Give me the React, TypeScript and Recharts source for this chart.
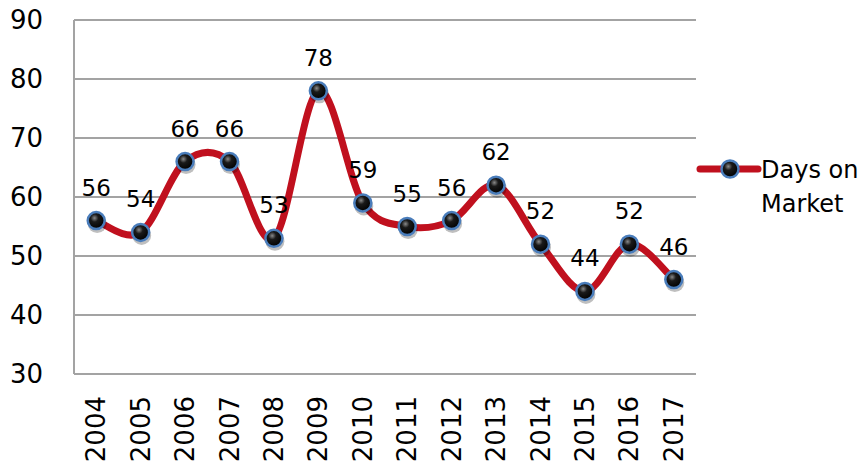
import React from "react";
import {
  LineChart,
  Line,
  XAxis,
  YAxis,
  CartesianGrid,
  Legend,
  LabelList,
} from "recharts";

const years = [
  "2004", "2005", "2006", "2007", "2008", "2009", "2010",
  "2011", "2012", "2013", "2014", "2015", "2016", "2017",
];
const daysOnMarket = [56, 54, 66, 66, 53, 78, 59, 55, 56, 62, 52, 44, 52, 46];
const yTicks = [30, 40, 50, 60, 70, 80, 90];
const seriesName = "Days on Market";

const data = years.map((y, i) => ({ year: y, days: daysOnMarket[i] }));

const FONT = "'DejaVu Sans', Verdana, sans-serif";
const RED = "#C0101E";
const GRID = "#a3a3a3";

// smoothed line like the spreadsheet one (catmull-rom through every point)
const smoothCurve = (context: any) => {
  let pts: number[][] = [];
  return {
    areaStart() {},
    areaEnd() {},
    lineStart() {
      pts = [];
    },
    point(x: number, y: number) {
      pts.push([+x, +y]);
    },
    lineEnd() {
      if (!pts.length) return;
      context.moveTo(pts[0][0], pts[0][1]);
      for (let i = 0; i < pts.length - 1; i++) {
        const p0 = pts[Math.max(i - 1, 0)];
        const p1 = pts[i];
        const p2 = pts[i + 1];
        const p3 = pts[Math.min(i + 2, pts.length - 1)];
        context.bezierCurveTo(
          p1[0] + (p2[0] - p0[0]) / 6,
          p1[1] + (p2[1] - p0[1]) / 6,
          p2[0] - (p3[0] - p1[0]) / 6,
          p2[1] - (p3[1] - p1[1]) / 6,
          p2[0],
          p2[1]
        );
      }
    },
  };
};

const Ball = ({ cx, cy }: { cx: number; cy: number }) => (
  <g>
    <circle cx={cx + 1} cy={cy + 3} r={9.5} fill="#000" opacity={0.25} />
    <circle
      cx={cx}
      cy={cy}
      r={8.5}
      fill="url(#ballGrad)"
      stroke="#4a7dbb"
      strokeWidth={2.5}
    />
  </g>
);

const Dot = (props: any) => {
  const { cx, cy, index } = props;
  if (cx == null || cy == null) return null;
  return <Ball key={`dot-${index}`} cx={cx} cy={cy} />;
};

const YearTick = (props: any) => {
  const { x, y, payload } = props;
  return (
    <text
      transform={`translate(${x + 9},${y + 22}) rotate(-90)`}
      textAnchor="end"
      fontSize={26}
      fontFamily={FONT}
      fill="#000"
    >
      {payload.value}
    </text>
  );
};

const LegendBox = () => (
  <svg width={167} height={95}>
    <defs>
      <radialGradient id="ballGradL" cx="40%" cy="35%" r="65%">
        <stop offset="0%" stopColor="#8a8a8a" />
        <stop offset="35%" stopColor="#1a1a1a" />
        <stop offset="100%" stopColor="#000" />
      </radialGradient>
    </defs>
    <line x1={4} y1={34} x2={62} y2={34} stroke={RED} strokeWidth={7} strokeLinecap="round" />
    <circle cx={34} cy={34} r={8.5} fill="url(#ballGradL)" stroke="#4a7dbb" strokeWidth={2.5} />
    <text x={65} y={43} fontSize={24} fontFamily={FONT} fill="#000">
      Days on
    </text>
    <text x={65} y={77} fontSize={24} fontFamily={FONT} fill="#000">
      Market
    </text>
  </svg>
);

export default function App() {
  return (
    <div style={{ position: "absolute", left: 0, top: 0 }}>
      <LineChart
        width={863}
        height={467}
        data={data}
        margin={{ top: 20, right: 0, bottom: 0, left: 0 }}
      >
        <defs>
          <radialGradient id="ballGrad" cx="40%" cy="35%" r="65%">
            <stop offset="0%" stopColor="#8a8a8a" />
            <stop offset="35%" stopColor="#1a1a1a" />
            <stop offset="100%" stopColor="#000" />
          </radialGradient>
        </defs>
        <CartesianGrid vertical={false} stroke={GRID} strokeWidth={2} />
        <XAxis
          dataKey="year"
          scale="band"
          height={93}
          interval={0}
          tickLine={false}
          tickSize={0}
          tickMargin={0}
          axisLine={{ stroke: GRID, strokeWidth: 2 }}
          tick={<YearTick />}
        />
        <YAxis
          domain={[30, 90]}
          ticks={yTicks}
          width={74}
          interval={0}
          tickLine={false}
          tickSize={0}
          tickMargin={31}
          axisLine={{ stroke: GRID, strokeWidth: 2 }}
          tick={{ fill: "#000", fontSize: 26, fontFamily: FONT }}
        />
        <Legend
          layout="vertical"
          align="right"
          verticalAlign="middle"
          wrapperStyle={{ left: 696, top: 135, width: 167 }}
          content={() => <LegendBox />}
        />
        <Line
          dataKey="days"
          name={seriesName}
          type={smoothCurve as any}
          stroke={RED}
          strokeWidth={7}
          dot={<Dot />}
          activeDot={false}
          isAnimationActive={false}
        >
          <LabelList
            dataKey="days"
            position="top"
            offset={25}
            fill="#000"
            fontSize={23}
            fontFamily={FONT}
          />
        </Line>
      </LineChart>
    </div>
  );
}
